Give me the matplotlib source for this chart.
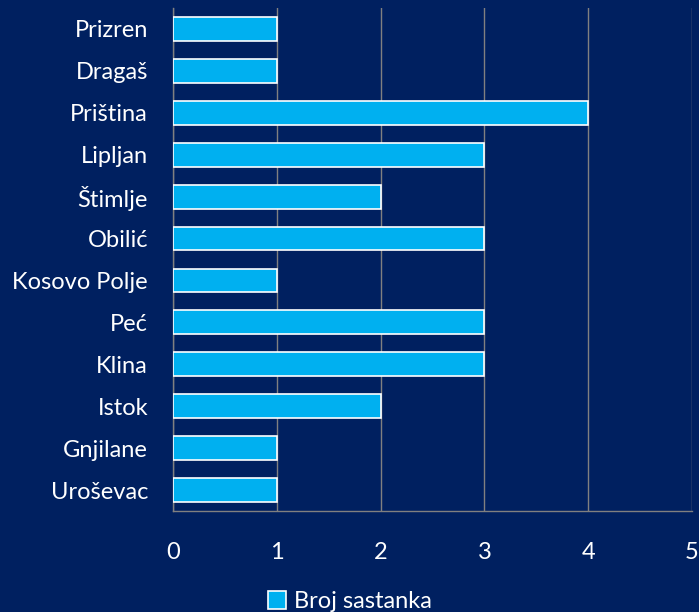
import matplotlib
matplotlib.use("Agg")
import matplotlib.pyplot as plt

cities = ["Prizren", "Dragaš", "Priština", "Lipljan", "Štimlje", "Obilić",
          "Kosovo Polje", "Peć", "Klina", "Istok", "Gnjilane", "Uroševac"]
meetings = [1, 1, 4, 3, 2, 3, 1, 3, 3, 2, 1, 1]
x_ticks = [0, 1, 2, 3, 4, 5]

bg = "#002060"
bar_color = "#00B0F0"
grid_color = "#808080"

plt.rcParams["font.family"] = ["Lato", "DejaVu Sans"]

fig = plt.figure(figsize=(6.99, 6.12), dpi=100, facecolor=bg)
ax = fig.add_axes([173 / 699, 1 - 511 / 612, (692 - 173) / 699, (511 - 8) / 612])
ax.set_facecolor(bg)

pos = list(range(len(cities)))
ax.barh(pos, meetings, height=0.57, color=bar_color, edgecolor="white",
        linewidth=1.2, label="Broj sastanka", zorder=3)
ax.set_ylim(len(cities) - 0.5, -0.5)
ax.set_yticks(pos)
ax.set_yticklabels(cities)
ax.set_xlim(0, 5)
ax.set_xticks(x_ticks)

ax.grid(axis="x", color=grid_color, linewidth=1, zorder=0)
for side in ["top", "right"]:
    ax.spines[side].set_visible(False)
for side in ["left", "bottom"]:
    ax.spines[side].set_color(grid_color)
    ax.spines[side].set_linewidth(1)

ax.tick_params(axis="both", length=0, colors="white", labelsize=17)
ax.tick_params(axis="x", pad=22)
ax.tick_params(axis="y", pad=18)

leg = fig.legend(loc="lower center", bbox_to_anchor=(0.5, -0.035), frameon=False,
                 fontsize=17, handlelength=0.8, handleheight=0.8, handletextpad=0.3)
for t in leg.get_texts():
    t.set_color("white")

fig.savefig("out.png", dpi=100, facecolor=bg)
